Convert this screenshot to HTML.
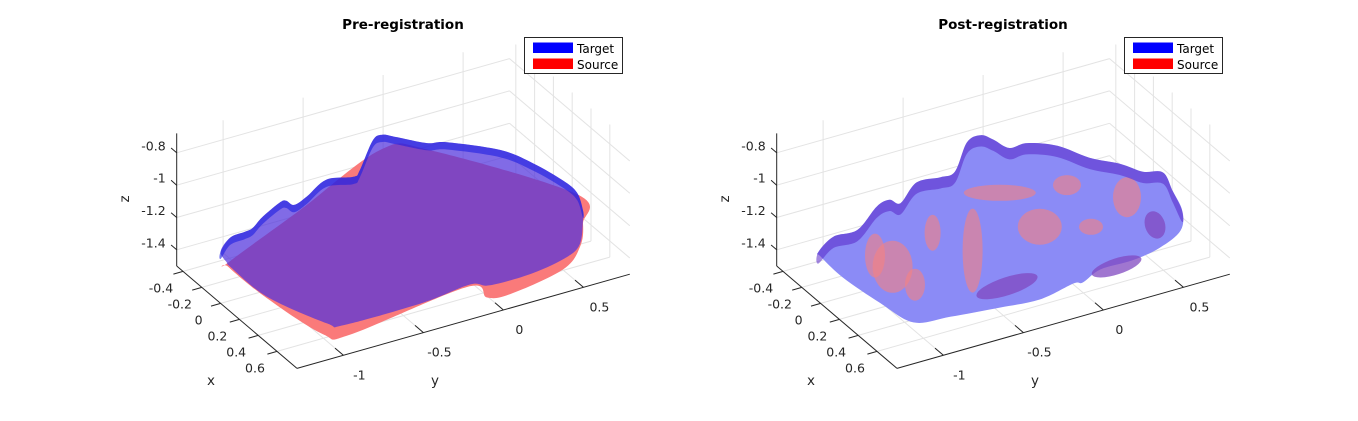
<!DOCTYPE html>
<html><head><meta charset="utf-8">
<style>
html,body{margin:0;padding:0;background:#fff;}
svg{display:block;font-family:"DejaVu Sans","Liberation Sans",sans-serif;}
</style></head>
<body>
<svg id="fig" width="1358" height="421" viewBox="0 0 1358 421" xmlns="http://www.w3.org/2000/svg"></svg>
<script>
// ---- axis data ----
const xTicks = [-0.4, -0.2, 0, 0.2, 0.4, 0.6];
const xTickLabels = ["-0.4", "-0.2", "0", "0.2", "0.4", "0.6"];
const yTicks = [-1, -0.5, 0, 0.5];
const yTickLabels = ["-1", "-0.5", "0", "0.5"];
const zTicks = [-0.8, -1, -1.2, -1.4];
const zTickLabels = ["-0.8", "-1", "-1.2", "-1.4"];
const xLim = [-0.467, 0.813];
const yLim = [-1.29, 0.79];
const zLim = [-1.5, -0.68];
const surfaceX = 0;
const panelTitles = ["Pre-registration", "Post-registration"];
const legendLabels = ["Target", "Source"];

// ---- surfaces (outline in y,z at x=surfaceX) ----
const targetPreY = [-1.29,-1.23,-1.14,-1.09,-1.03,-0.92,-0.88,-0.83,-0.75,-0.63,-0.46,-0.42,-0.34,-0.28,-0.19,0.00,0.125,0.456,0.662,0.85,0.938,0.975,0.975,0.956,0.875,0.662,0.394,0.269,-0.025,-0.52,-0.625,-1.00,-1.23,-1.25];
const targetPreZ = [-1.18,-1.11,-1.10,-1.09,-1.04,-0.98,-0.98,-1.02,-0.99,-0.92,-0.95,-0.92,-0.76,-0.74,-0.78,-0.87,-0.90,-1.04,-1.18,-1.34,-1.44,-1.56,-1.62,-1.76,-1.82,-1.86,-1.86,-1.82,-1.85,-1.85,-1.81,-1.54,-1.29,-1.26];
const sourcePreY = [-1.24,-1.00,-0.65,-0.48,0.25,0.375,0.52,0.85,0.956,0.975,0.938,0.02,-0.29,-0.79,-1.24];
const sourcePreZ = [-1.29,-1.55,-1.87,-1.92,-1.83,-1.93,-1.95,-1.89,-1.78,-1.64,-1.45,-0.92,-0.83,-1.06,-1.26];
const targetPostY = [-1.305,-1.21,-1.06,-0.94,-0.86,-0.79,-0.69,-0.54,-0.45,-0.375,-0.29,-0.21,-0.11,0.00,0.19,0.39,0.58,0.725,0.85,0.91,0.97,0.96,0.83,0.66,0.46,0.35,0.29,0.08,-0.17,-0.48,-0.71,-0.92,-1.15,-1.29];
const targetPostZ = [-1.18,-1.11,-1.11,-1.00,-0.98,-1.02,-0.92,-0.93,-0.92,-0.76,-0.74,-0.79,-0.87,-0.87,-0.94,-1.07,-1.16,-1.25,-1.29,-1.42,-1.56,-1.68,-1.75,-1.78,-1.78,-1.83,-1.82,-1.86,-1.84,-1.81,-1.78,-1.60,-1.38,-1.21];
const sourcePatchY = [-0.84,-0.34,0.08,-0.17,0.625,-0.59,-0.95,0.40,-0.70,0.25];
const sourcePatchZ = [-1.40,-1.44,-1.41,-1.13,-1.38,-1.26,-1.30,-1.50,-1.55,-1.20];
const sourcePatchRx = [20,10,22,36,14,8,10,12,10,14];
const sourcePatchRy = [26,42,18,8,20,18,22,8,16,10];
const overlapPatchY = [-0.125,0.56,0.80];
const overlapPatchZ = [-1.72,-1.79,-1.60];
const overlapPatchRx = [32,26,10];
const overlapPatchRy = [9,8,14];

const NS = "http://www.w3.org/2000/svg";
const svg = document.getElementById('fig');
function mk(tag, attrs, parent){
  const e = document.createElementNS(NS, tag);
  for (const k in attrs) e.setAttribute(k, attrs[k]);
  (parent||svg).appendChild(e);
  return e;
}
const EX=[94,80], EY=[160,-45.3], EZ=161.7, ORIG=[176.7,266];
function proj(off, x, y, z){
  const a = x - xLim[0], b = y - yLim[0], c = z - zLim[0];
  return [ORIG[0] + off + a*EX[0] + b*EY[0], ORIG[1] + a*EX[1] + b*EY[1] - c*EZ];
}
// smooth closed path through projected points (Catmull-Rom)
function smoothPath(off, ys, zs){
  const p = ys.map((y,i)=>proj(off, surfaceX, y, zs[i]));
  const n = p.length;
  let d = `M${p[0][0].toFixed(1)},${p[0][1].toFixed(1)}`;
  for (let i=0;i<n;i++){
    const p0=p[(i-1+n)%n], p1=p[i], p2=p[(i+1)%n], p3=p[(i+2)%n];
    const t=0.5/3;
    const c1=[p1[0]+(p2[0]-p0[0])*t, p1[1]+(p2[1]-p0[1])*t];
    const c2=[p2[0]-(p3[0]-p1[0])*t, p2[1]-(p3[1]-p1[1])*t];
    d += ` C${c1[0].toFixed(1)},${c1[1].toFixed(1)} ${c2[0].toFixed(1)},${c2[1].toFixed(1)} ${p2[0].toFixed(1)},${p2[1].toFixed(1)}`;
  }
  return d + 'Z';
}
function line(g, p, q, stroke, w){
  return mk('line',{x1:p[0].toFixed(1),y1:p[1].toFixed(1),x2:q[0].toFixed(1),y2:q[1].toFixed(1),stroke:stroke,'stroke-width':w||1},g);
}
function ridgeArrays(ys, zs, n, dz){
  const topY = ys.slice(0,n), topZ = zs.slice(0,n);
  return [topY.concat(topY.slice().reverse()), topZ.concat(topZ.slice().reverse().map(z=>z-dz))];
}

function drawPanel(idx, off){
  const g = mk('g',{});
  
  
  const grid = mk('g',{},g);
  
  
  const gc = '#e3e3e3';
  yTicks.forEach(y=>line(grid, proj(off,xLim[0],y,zLim[0]), proj(off,xLim[0],y,zLim[1]), gc));
  zTicks.forEach(z=>line(grid, proj(off,xLim[0],yLim[0],z), proj(off,xLim[0],yLim[1],z), gc));
  xTicks.forEach(x=>line(grid, proj(off,x,yLim[1],zLim[0]), proj(off,x,yLim[1],zLim[1]), gc));
  zTicks.forEach(z=>line(grid, proj(off,xLim[0],yLim[1],z), proj(off,xLim[1],yLim[1],z), gc));
  xTicks.forEach(x=>line(grid, proj(off,x,yLim[0],zLim[0]), proj(off,x,yLim[1],zLim[0]), gc));
  yTicks.forEach(y=>line(grid, proj(off,xLim[0],y,zLim[0]), proj(off,xLim[1],y,zLim[0]), gc));

  const surf = mk('g',{},g);
  
  
  if (idx===0){
    const s = mk('path',{d:smoothPath(off,sourcePreY,sourcePreZ),fill:'#fa7a7a'},surf);
    
    
    const t = mk('path',{d:smoothPath(off,targetPreY,targetPreZ),fill:'rgb(80,50,220)','fill-opacity':0.72},surf);
    
    
    const [rY,rZ] = ridgeArrays(targetPreY,targetPreZ,22,0.045);
    const r = mk('path',{d:smoothPath(off,rY,rZ),fill:'rgb(30,30,225)','fill-opacity':0.6},surf);
    
    
  } else {
    const t = mk('path',{d:smoothPath(off,targetPostY,targetPostZ),fill:'#8b8bf6'},surf);
    
    
    sourcePatchY.forEach((y,i)=>{
      const c = proj(off,surfaceX,y,sourcePatchZ[i]);
      const e = mk('ellipse',{cx:c[0].toFixed(1),cy:c[1].toFixed(1),rx:sourcePatchRx[i],ry:sourcePatchRy[i],fill:'#f58282','fill-opacity':0.6},surf);
      
      
    });
    overlapPatchY.forEach((y,i)=>{
      const c = proj(off,surfaceX,y,overlapPatchZ[i]);
      const e = mk('ellipse',{cx:c[0].toFixed(1),cy:c[1].toFixed(1),rx:overlapPatchRx[i],ry:overlapPatchRy[i],fill:'#8048c0','fill-opacity':0.75,transform:`rotate(-18 ${c[0].toFixed(1)} ${c[1].toFixed(1)})`},surf);
      
      
    });
    const [rY,rZ] = ridgeArrays(targetPostY,targetPostZ,21,0.07);
    const r = mk('path',{d:smoothPath(off,rY,rZ),fill:'rgb(90,40,200)','fill-opacity':0.55},surf);
    
    
  }

  const ax = mk('g',{},g);
  
  
  const ac='#262626';
  line(ax, proj(off,xLim[0],yLim[0],zLim[0]), proj(off,xLim[0],yLim[0],zLim[1]), ac);
  line(ax, proj(off,xLim[0],yLim[0],zLim[0]), proj(off,xLim[1],yLim[0],zLim[0]), ac);
  line(ax, proj(off,xLim[1],yLim[0],zLim[0]), proj(off,xLim[1],yLim[1],zLim[0]), ac);
  const tl = 0.06;
  const txt = (s, x, y, anchor, name)=>{
    const t = mk('text',{x:x.toFixed(1),y:y.toFixed(1),'font-size':12.5,fill:'#262626','text-anchor':anchor},g);
    t.textContent = s;
    
    
    return t;
  };
  zTicks.forEach((z,i)=>{
    const p = proj(off,xLim[0],yLim[0],z);
    line(ax, p, proj(off,xLim[0]-tl,yLim[0],z), ac);
    txt(zTickLabels[i], p[0]-11, p[1]-2.5, 'end', 'z-tick-label');
  });
  xTicks.forEach((x,i)=>{
    const p = proj(off,x,yLim[0],zLim[0]);
    line(ax, p, proj(off,x,yLim[0]-tl,zLim[0]), ac);
    txt(xTickLabels[i], p[0]-22, p[1]+21, 'middle', 'x-tick-label');
  });
  yTicks.forEach((y,i)=>{
    const p = proj(off,xLim[1],y,zLim[0]);
    line(ax, p, proj(off,xLim[1]-tl*1.5,y,zLim[0]), ac);
    txt(yTickLabels[i], p[0]+16, p[1]+24, 'middle', 'y-tick-label');
  });
  txt('x', 211+off, 385, 'middle', 'x-axis-title').setAttribute('font-size','13.5');
  txt('y', 435+off, 385, 'middle', 'y-axis-title').setAttribute('font-size','13.5');
  const zt = txt('z', 0, 0, 'middle', 'z-axis-title');
  zt.setAttribute('font-size','13.5');
  zt.setAttribute('transform',`translate(${129+off},199) rotate(-90)`);
  const tt = mk('text',{x:403+off,y:29,'font-size':13.5,'font-weight':'bold','text-anchor':'middle',fill:'#000'},g);
  tt.textContent = panelTitles[idx];
  
  

  const lg = mk('g',{},g);
  
  
  mk('rect',{x:524.5+off,y:37.5,width:98,height:36,fill:'#fff',stroke:'#262626','stroke-width':1},lg);
  const cols = ['#0000ff','#ff0000'];
  legendLabels.forEach((lab,i)=>{
    const e = mk('g',{},lg);
    
    
    mk('rect',{x:533+off,y:42.5+i*16,width:40,height:10.5,fill:cols[i]},e);
    const t = mk('text',{x:577+off,y:53+i*16,'font-size':12,fill:'#000'},e);
    t.textContent = lab;
  });
}
drawPanel(0, 0);
drawPanel(1, 600);
</script>
</body></html>
